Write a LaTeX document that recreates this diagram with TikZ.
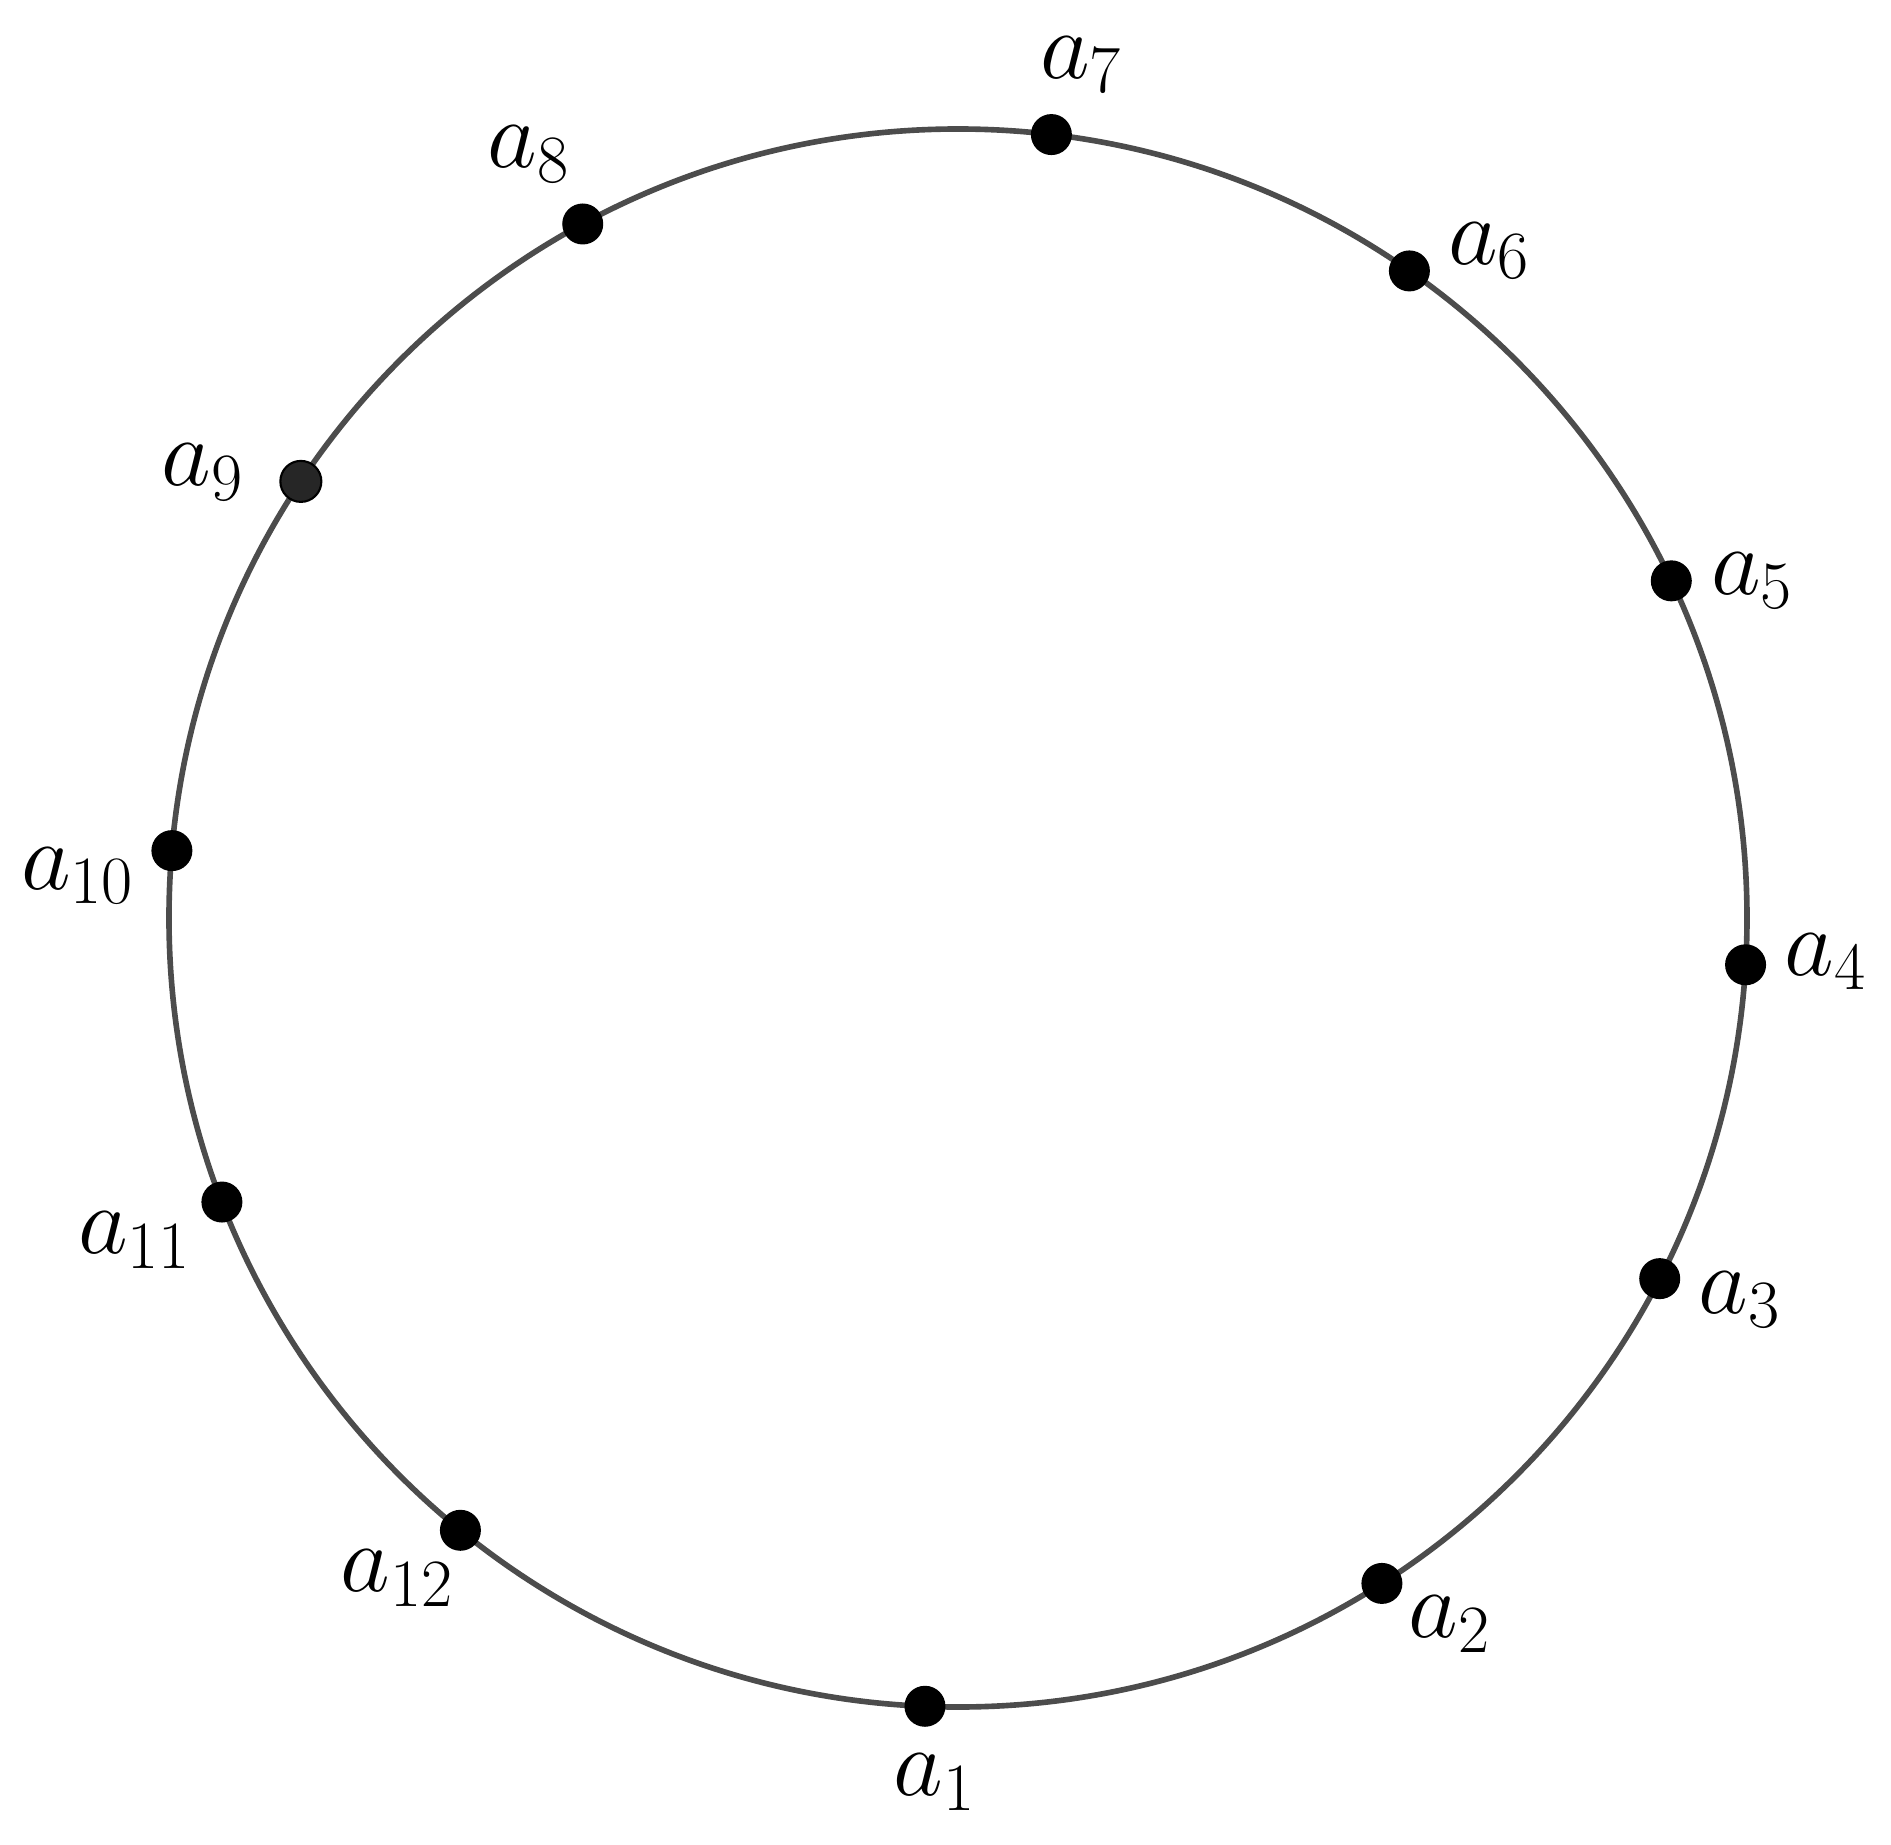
\documentclass[tikz,border=0pt]{standalone}
\usepackage{fix-cm}
\usetikzlibrary{positioning}

\begin{document}
\begin{tikzpicture}[
    dot/.style={circle, fill=black, inner sep=0pt, minimum size=0.41cm},
    lbl/.style={inner sep=0pt, font=\fontsize{27.5}{33}\selectfont}
]
    \useasboundingbox (-9.58,-9.26) rectangle (9.33,9.18);
    % Ring
    \draw[line width=1.6pt, draw=black!70] (0,0) circle (7.89);

    % Define nodes
    \node[dot] (a1) at (267.6:7.89) {};
    \node[dot] (a2) at (302.5:7.89) {};
    \node[dot] (a3) at (332.8:7.89) {};
    \node[dot] (a4) at (356.6:7.89) {};
    \node[dot] (a5) at (25.3:7.89) {};
    \node[dot] (a6) at (55.1:7.89) {};
    \node[dot] (a7) at (83.2:7.89) {};
    \node[dot] (a8) at (118.4:7.89) {};
    \node[dot, fill=black!85, draw=black, line width=0.6pt] (a9) at (146.4:7.89) {};
    \node[dot] (a10) at (175.1:7.89) {};
    \node[dot] (a11) at (201.1:7.89) {};
    \node[dot] (a12) at (230.9:7.89) {};

    % Labels
    \node[lbl] (l1) at ([shift={(0.10,-0.76)}]a1) {$a_1$};
    \node[lbl] (l2) at ([shift={(0.68,-0.41)}]a2) {$a_2$};
    \node[lbl] (l3) at ([shift={(0.80,-0.21)}]a3) {$a_3$};
    \node[lbl] (l4) at ([shift={(0.80,0.03)}]a4) {$a_4$};
    \node[lbl] (l5) at ([shift={(0.81,0.00)}]a5) {$a_5$};
    \node[lbl] (l6) at ([shift={(0.80,0.20)}]a6) {$a_6$};
    \node[lbl] (l7) at ([shift={(0.30,0.70)}]a7) {$a_7$};
    \node[lbl] (l8) at ([shift={(-0.54,0.70)}]a8) {$a_8$};
    \node[lbl] (l9) at ([shift={(-0.98,0.09)}]a9) {$a_9$};
    \node[lbl] (l10) at ([shift={(-0.94,-0.25)}]a10) {$a_{10}$};
    \node[lbl] (l11) at ([shift={(-0.87,-0.38)}]a11) {$a_{11}$};
    \node[lbl] (l12) at ([shift={(-0.63,-0.48)}]a12) {$a_{12}$};
\end{tikzpicture}
\end{document}
